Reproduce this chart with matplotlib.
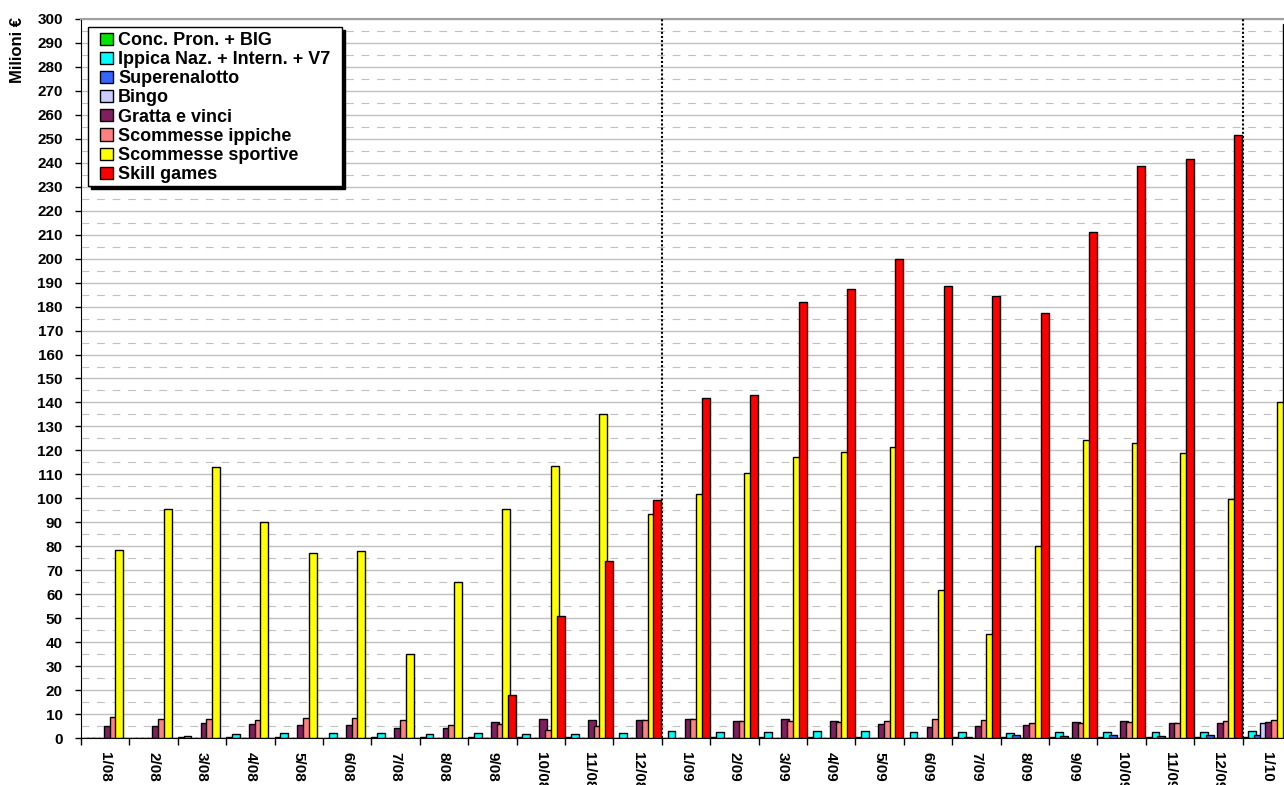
"""Raccolta mensile giochi 2008-2010"""

import numpy as np
from matplotlib import pyplot as plt
from matplotlib.patches import Rectangle

# Months on the x axis
months = ['1/08', '2/08', '3/08', '4/08', '5/08', '6/08', '7/08', '8/08',
          '9/08', '10/08', '11/08', '12/08',
          '1/09', '2/09', '3/09', '4/09', '5/09', '6/09', '7/09', '8/09',
          '9/09', '10/09', '11/09', '12/09', '1/10']

# Values in milioni of euro
conc = [0, 0, 0.4, 0.4, 0.4, 0.1, 0.4, 0.3, 0.5, 0.6, 0.5, 0.1,
        0.2, 0.4, 0.4, 0.4, 0.4, 0.2, 0.3, 0.3, 0.3, 0.3, 0.3, 0.3, 0.3]
ippica = [0, 0, 1.0, 1.7, 2.1, 2.1, 2.2, 1.8, 2.1, 1.8, 1.7, 2.2,
          2.9, 2.4, 2.6, 2.8, 2.8, 2.5, 2.6, 2.1, 2.5, 2.5, 2.4, 2.5, 2.9]
superenalotto = [0, 0, 0, 0, 0, 0, 0, 0, 0, 0, 0, 0,
                 0, 0, 0, 0, 0, 0, 0.3, 1.1, 0.7, 1.1, 0.8, 1.1, 1.4]
bingo = [0, 0, 0, 0, 0, 0, 0, 0, 0, 0, 0, 0,
         0, 0, 0, 0, 0, 0, 0, 0, 0, 0, 0, 0, 6.3]
gratta = [5.1, 5.1, 6.1, 5.7, 5.6, 5.3, 4.2, 4.2, 6.5, 7.8, 7.5, 7.4,
          7.9, 7.2, 7.8, 7.1, 6.0, 4.7, 4.9, 5.3, 6.6, 7.1, 6.4, 6.4, 6.8]
ippiche = [8.9, 7.9, 7.9, 7.6, 8.2, 8.3, 7.6, 5.6, 5.7, 3.2, 4.9, 7.4,
           7.9, 7.1, 7.2, 6.5, 7.1, 8.1, 7.4, 6.3, 6.4, 6.5, 6.4, 7.0, 7.4]
sportive = [78.5, 95.5, 113, 90.3, 77.3, 78.2, 35, 65, 95.5, 113.5, 135, 93.5,
            102, 110.5, 117.3, 119.5, 121.5, 61.7, 43.5, 80, 124.5, 123, 118.8,
            99.8, 140]
skill = [0, 0, 0, 0, 0, 0, 0, 0, 18, 50.8, 74, 99.5,
         141.7, 143.3, 182, 187.5, 199.8, 188.7, 184.3, 177.5, 211.3, 238.5,
         241.7, 251.5, 297.8]

names = ['Conc. Pron. + BIG', 'Ippica Naz. + Intern. + V7', 'Superenalotto',
         'Bingo', 'Gratta e vinci', 'Scommesse ippiche', 'Scommesse sportive',
         'Skill games']
series = [conc, ippica, superenalotto, bingo, gratta, ippiche, sportive, skill]
colors = ['#00e600', '#00ffff', '#3366ff', '#ccccff', '#7f1f5f', '#ff8080',
          '#ffff00', '#ff0000']

plt.rcParams['font.family'] = ['Liberation Sans', 'DejaVu Sans']
plt.rcParams['font.weight'] = 'bold'

W, H = 1284, 785
fig = plt.figure(figsize=(W / 100, H / 100), dpi=100)
ax = fig.add_axes([81 / W, 47 / H, 1210 / W, 719 / H])

# Overlapping clustered bars, Excel style
x = np.arange(len(months))
step, width = 0.118, 0.165
for j, (vals, name, col) in enumerate(zip(series, names, colors)):
    ax.bar(x + j * step, vals, width=width, align='edge', color=col,
           edgecolor='black', linewidth=1.0, label=name, zorder=3)

# Year separators
for xv in (12, 24):
    ax.axvline(xv, color='black', lw=1.5, ls=(0, (1, 1)), zorder=4)

ax.set_xlim(0, 25)
ax.set_ylim(0, 300)

ax.set_xticks(np.arange(len(months) + 1))
ax.set_xticklabels([])
ax.set_xticks(x + 0.5, months, minor=True)
ax.tick_params(axis='x', which='major', length=5, width=1, direction='out')
ax.tick_params(axis='x', which='minor', length=0, pad=10, labelsize=11,
               labelrotation=270)

ax.set_yticks(np.arange(0, 301, 10))
ax.set_yticks(np.arange(5, 300, 10), minor=True)
ax.tick_params(axis='y', which='major', length=4, width=1, pad=9,
               labelsize=11)
ax.tick_params(axis='y', which='minor', length=0)

ax.set_axisbelow(True)
ax.yaxis.grid(True, which='major', color='#c0c0c0', lw=1, ls='-')
ax.yaxis.grid(True, which='minor', color='#c0c0c0', lw=0.8, ls=(0, (7, 7)))

ax.spines['right'].set_visible(False)
ax.spines['top'].set_color('#a0a0a0')
ax.spines['top'].set_linewidth(1.5)

fig.text(18 / W, 1 - 17 / H, 'Milioni €', rotation=90, va='top',
         ha='center', fontsize=12, fontweight='bold')

# Legend box with a hard black shadow
lx, ly, lw, lh = 88, 27, 254, 159
ax.add_patch(Rectangle(((lx + 3) / W, 1 - (ly + lh + 3) / H), lw / W, lh / H,
                       transform=fig.transFigure, facecolor='black',
                       edgecolor='black', zorder=5, clip_on=False))
ax.add_patch(Rectangle((lx / W, 1 - (ly + lh) / H), lw / W, lh / H,
                       transform=fig.transFigure, facecolor='white',
                       edgecolor='black', lw=1, zorder=5.5, clip_on=False))

leg = ax.legend(loc='upper left', bbox_to_anchor=(100 / W, 1 - 32 / H),
                bbox_transform=fig.transFigure, borderaxespad=0, borderpad=0,
                fontsize=13, frameon=False, handlelength=0.7,
                handleheight=0.67, handletextpad=0.3, labelspacing=0.12)
leg.set_zorder(6)

fig.savefig('out.png', dpi=100)
